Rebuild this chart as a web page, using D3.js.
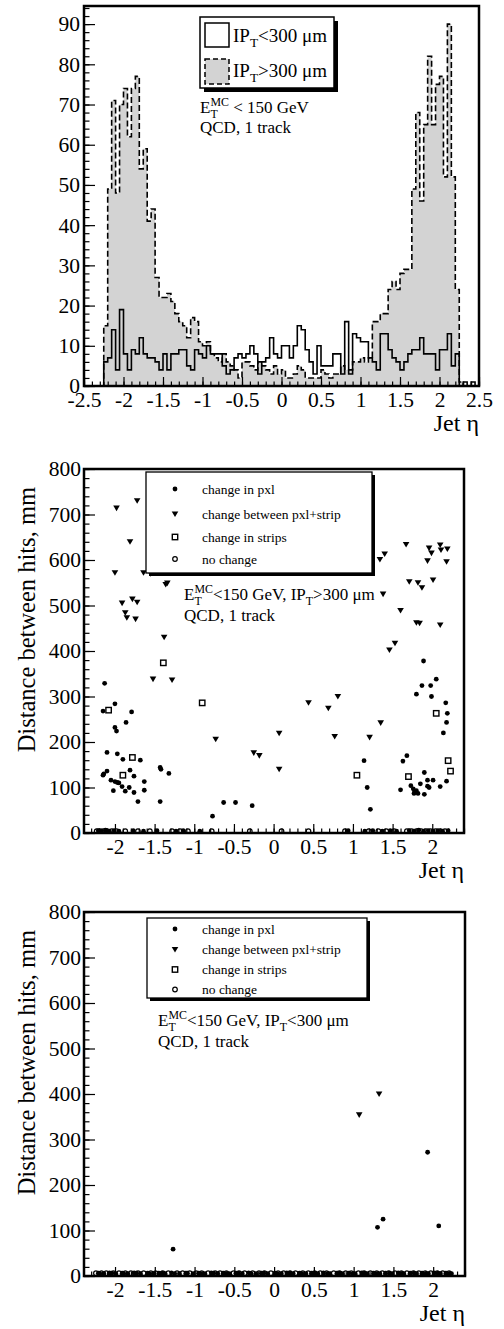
<!DOCTYPE html>
<html>
<head>
<meta charset="utf-8">
<script src="https://cdn.jsdelivr.net/npm/d3@7"></script>
<style>
html,body{margin:0;padding:0;background:#fff;}
svg{display:block;}
text{font-family:"Liberation Serif","Times New Roman",serif;fill:#000;white-space:pre;}
</style>
</head>
<body>
<svg id="chart" width="504" height="1329"></svg>
<script>
// ---------- histogram: jet eta, 100 bins of 0.05 from -2.5 to 2.5 ----------
const histLow = -2.5, histHigh = 2.5, histBins = 100;
// IP_T < 300 um (solid outline)
const countsIpLow = [0,0,0,0,0,
  6,7,14,4,19,8,4,9,8,12,
  8,7,7,6,4,8,4,8,8,9,
  9,5,4,9,8,7,10,8,8,8,
  5,3,4,7,8,7,8,10,8,3,
  6,7,12,8,7,10,10,7,10,15,
  14,9,6,3,10,5,5,5,8,8,
  3,16,3,13,12,11,11,7,6,4,
  13,13,9,7,6,4,6,8,9,9,
  12,8,8,8,4,9,9,13,5,8,
  0,1,0,1,0];
// IP_T > 300 um (grey, dashed outline)
const countsIpHigh = [0,0,0,0,0,
  15,49,71,48,70,74,62,74,77,54,
  59,41,44,27,22,22,23,21,18,16,
  15,12,17,16,11,10,11,8,7,6,
  8,6,5,4,2,6,6,5,4,6,
  5,4,3,5,3,4,2,2,3,5,
  4,2,2,2,2,4,3,2,3,3,
  5,4,4,6,6,7,6,7,16,16,
  18,18,24,26,24,28,29,29,49,68,
  46,65,82,65,75,77,52,90,52,24,
  1,0,0,0,0];
const histYTicks = [0,10,20,30,40,50,60,70,80,90];
const histXTicks = [-2.5,-2,-1.5,-1,-0.5,0,0.5,1,1.5,2,2.5];

// ---------- scatter: [jet eta, distance between hits (mm)] ----------
// IP_T > 300 um
const midPxl = [[-2.13,329],[-2.15,268],[-2.00,284],[-2.00,232],[-1.98,224],[-1.86,243],[-1.79,266],
  [-2.10,177],[-1.97,174],[-1.90,162],[-1.68,160],[-2.15,127],[-2.14,130],[-2.10,136],[-2.05,116],
  [-2.00,113],[-1.97,111],[-1.95,110],[-2.02,93],[-1.91,102],[-1.87,92],[-1.82,100],[-1.81,138],
  [-1.76,125],[-1.76,89],[-1.71,69],[-1.63,113],[-1.63,94],[-1.43,144],[-1.42,140],[-1.32,131],
  [-1.43,69],[-0.77,37],[-0.63,67],[-0.48,67],[-0.27,60],[1.14,159],[1.18,100],[1.22,52],
  [1.89,378],[1.87,324],[1.98,324],[2.05,338],[1.80,305],[1.99,300],[2.17,286],[2.19,263],
  [2.18,243],[2.14,220],[1.63,158],[1.68,170],[1.60,95],[1.73,104],[1.76,97],[1.78,92],[1.77,87],
  [1.82,87],[1.80,93],[1.85,108],[1.90,133],[1.90,85],[1.94,116],[1.94,103],[1.96,100],[2.01,116],
  [2.10,102],[2.18,114],
  [-2.21,5],[-2.17,4],[-2.12,6],[-2.07,4],[-2.01,5],[-1.95,4],[-1.77,5],[-1.64,4],[-1.47,5],
  [-1.23,4],[-1.14,5],[-0.93,4],[0.94,5],[1.15,4],[1.25,5],[1.37,4],[1.47,5],[1.55,4],[1.71,5],
  [1.77,4],[1.83,6],[1.89,4],[1.95,5],[2.01,4],[2.07,5],[2.13,4],[2.20,5]];
const midPxlStrip = [[-1.98,714],[-1.72,730],[-1.81,640],[-2.00,572],[-1.64,572],[-1.55,570],
  [-1.34,549],[-1.36,546],[-1.91,505],[-1.78,514],[-1.72,507],[-1.87,484],[-1.85,473],[-1.74,470],
  [-1.38,430],[-1.52,338],[-1.28,336],[-0.73,206],[-0.25,176],[-0.18,170],[0.07,219],[0.07,140],
  [0.44,286],[0.69,274],[0.81,300],[0.77,212],[1.21,210],[1.35,242],[1.46,402],[1.53,417],
  [1.34,601],[1.40,613],[1.67,634],[1.96,626],[1.99,615],[2.10,633],[2.11,622],[2.19,624],
  [1.94,598],[2.18,596],[1.71,552],[1.82,550],[1.87,539],[2.01,556],[1.38,525],[1.60,489],
  [1.80,462],[1.84,461],[2.10,457]];
const midStrips = [[-2.08,270],[-1.78,166],[-1.90,127],[-0.90,286],[-1.39,374],[1.05,127],
  [1.70,124],[2.05,263],[2.20,159],[2.23,136]];
const midNoChange = [[-2.23,4],[-2.19,4],[-2.15,4],[-2.10,4],[-2.04,4],[-1.98,4],[-1.87,4],[-1.71,4],
  [-1.56,4],[-1.28,4],[-1.18,4],[-1.08,4],[-0.78,4],[-0.30,4],[0.10,4],[0.44,4],[0.90,4],[1.20,4],
  [1.32,4],[1.42,4],[1.52,4],[1.68,4],[1.74,4],[1.80,4],[1.86,4],[1.92,4],[1.98,4],[2.04,4],
  [2.10,4],[2.16,4]];

// IP_T < 300 um
const botPxl = [[-1.27,59],[1.30,107],[1.37,125],[1.93,272],[2.07,110],
  [-2.21,6],[-2.14,5],[-2.07,7],[-1.99,5],[-1.91,6],[-1.84,5],[-1.76,7],[-1.68,5],[-1.59,6],
  [-1.52,5],[-1.45,6],[-1.37,5],[-1.29,7],[-1.19,5],[-1.11,6],[-1.02,5],[-0.95,6],[-0.87,5],
  [-0.79,7],[-0.71,5],[-0.64,6],[-0.56,5],[-0.48,6],[-0.40,5],[-0.32,7],[-0.23,5],[-0.16,6],
  [-0.08,5],[0.01,6],[0.09,5],[0.16,7],[0.24,5],[0.32,6],[0.40,5],[0.47,6],[0.55,5],[0.62,7],
  [0.70,5],[0.79,6],[0.86,5],[0.94,6],[1.02,5],[1.10,7],[1.17,5],[1.25,6],[1.33,5],[1.40,6],
  [1.48,5],[1.56,7],[1.63,5],[1.71,6],[1.79,5],[1.86,6],[1.94,5],[2.01,7],[2.09,5],[2.16,6],[2.23,5],
  [-2.19,5],[-2.04,6],[-1.89,5],[-1.73,6],[-1.57,5],[-1.41,6],[-1.25,5],[-1.09,6],[-0.92,5],
  [-0.76,6],[-0.60,5],[-0.45,6],[-0.29,5],[-0.13,6],[0.04,5],[0.20,6],[0.35,5],[0.51,6],[0.67,5],
  [0.83,6],[0.99,5],[1.14,6],[1.29,5],[1.45,6],[1.60,5],[1.76,6],[1.91,5],[2.06,6],[2.20,5]];
const botPxlStrip = [[1.07,354],[1.32,400]];
const botStrips = [];
const botNoChange = [[-2.24,6],[-2.17,6],[-2.11,6],[-2.02,6],[-1.95,6],[-1.87,6],[-1.80,6],[-1.71,6],
  [-1.64,6],[-1.55,6],[-1.49,6],[-1.40,6],[-1.33,6],[-1.22,6],[-1.15,6],[-1.06,6],[-0.98,6],[-0.91,6],
  [-0.83,6],[-0.74,6],[-0.68,6],[-0.60,6],[-0.51,6],[-0.44,6],[-0.37,6],[-0.27,6],[-0.19,6],[-0.12,6],
  [-0.04,6],[0.05,6],[0.12,6],[0.20,6],[0.27,6],[0.36,6],[0.43,6],[0.51,6],[0.58,6],[0.66,6],
  [0.75,6],[0.82,6],[0.90,6],[0.97,6],[1.06,6],[1.13,6],[1.21,6],[1.29,6],[1.36,6],[1.44,6],
  [1.52,6],[1.60,6],[1.67,6],[1.75,6],[1.82,6],[1.90,6],[1.97,6],[2.05,6],[2.12,6],[2.20,6]];

const scatYTicks = [0,100,200,300,400,500,600,700,800];
const scatXTicks = [-2,-1.5,-1,-0.5,0,0.5,1,1.5,2];
const legendLabels = ["change in pxl","change between pxl+strip","change in strips","no change"];

// ---------- drawing ----------
const svg = d3.select("#chart");
const GREY = "#d3d3d3";
const TICK_FONT = 21.5;

function richText(g, x, y, parts, size) {
  let cx = x;
  parts.forEach(p => {
    if (p.t !== undefined) {
      const t = g.append("text").attr("x", cx).attr("y", y).style("font-size", size + "px").text(p.t);
      cx += t.node().getComputedTextLength();
    } else {
      let w = 0;
      if (p.sub) {
        const t = g.append("text").attr("x", cx).attr("y", y + size * 0.28)
          .style("font-size", (size * 0.7) + "px").text(p.sub);
        w = Math.max(w, t.node().getComputedTextLength());
      }
      if (p.sup) {
        const t = g.append("text").attr("x", cx).attr("y", y - size * 0.42)
          .style("font-size", (size * 0.7) + "px").text(p.sup);
        w = Math.max(w, t.node().getComputedTextLength());
      }
      cx += w;
    }
  });
}

function drawAxes(g, box, x, y, o) {
  const bottom = g.append("g").attr("transform", `translate(0,${box.b})`);
  bottom.append("g").call(d3.axisBottom(x).tickValues(o.xMinor).tickSize(-o.xMinorLen).tickFormat(""));
  bottom.append("g").call(d3.axisBottom(x).tickValues(o.xMajor).tickSize(-o.xMajorLen)
    .tickPadding(6).tickFormat(d => String(d)));
  const left = g.append("g").attr("transform", `translate(${box.l},0)`);
  left.append("g").call(d3.axisLeft(y).tickValues(o.yMinor).tickSize(-o.yMinorLen).tickFormat(""));
  left.append("g").call(d3.axisLeft(y).tickValues(o.yMajor).tickSize(-o.yMajorLen)
    .tickPadding(o.yPad).tickFormat(d => String(d)));
  [bottom, left].forEach(a => {
    a.selectAll(".domain").remove();
    a.selectAll("line").attr("stroke", "#000").attr("stroke-width", 1.2);
    a.selectAll("text").style("font-size", TICK_FONT + "px").attr("fill", "#000");
    a.selectAll("g").attr("font-family", null).attr("font-size", null);
  });
  g.append("rect").attr("x", box.l).attr("y", box.t).attr("width", box.r - box.l)
    .attr("height", box.b - box.t).attr("fill", "none").attr("stroke", "#000").attr("stroke-width", 2.5);
  g.append("text").attr("x", box.r).attr("y", box.b + 45).attr("text-anchor", "end")
    .style("font-size", "24px").text("Jet η");
}

// ---- top panel: histogram ----
(function () {
  const box = {l: 84, r: 479, t: 6, b: 386};
  const x = d3.scaleLinear().domain([histLow, histHigh]).range([box.l, box.r]);
  const y = d3.scaleLinear().domain([0, 94.5]).range([box.b, box.t]);
  const w = (histHigh - histLow) / histBins;
  const g = svg.append("g");
  const step = vals => {
    let p = `M${x(histLow)},${y(0)}`;
    vals.forEach((v, i) => {
      const lo = histLow + i * w, hi = lo + w;
      p += `L${x(lo)},${y(v)}L${x(hi)},${y(v)}`;
    });
    return p + `L${x(histHigh)},${y(0)}`;
  };
  g.append("path").attr("d", step(countsIpHigh) + "Z").attr("fill", GREY).attr("stroke", "none");
  g.append("path").attr("d", step(countsIpHigh)).attr("fill", "none").attr("stroke", "#000")
    .attr("stroke-width", 1.6).attr("stroke-dasharray", "6,3");
  g.append("path").attr("d", step(countsIpLow)).attr("fill", "none").attr("stroke", "#000")
    .attr("stroke-width", 1.6);
  drawAxes(g, box, x, y, {
    xMajor: histXTicks, xMinor: d3.range(-25, 26).map(d => d / 10), xMajorLen: 9, xMinorLen: 4.5,
    yMajor: histYTicks, yMinor: d3.range(0, 95, 2), yMajorLen: 11, yMinorLen: 5.5, yPad: 4
  });
  // legend
  const L = {x: 200, y: 17, w: 134, h: 71};
  g.append("rect").attr("x", L.x + 4).attr("y", L.y + 4).attr("width", L.w).attr("height", L.h).attr("fill", "#000");
  g.append("rect").attr("x", L.x).attr("y", L.y).attr("width", L.w).attr("height", L.h)
    .attr("fill", "#fff").attr("stroke", "#000").attr("stroke-width", 1.5);
  g.append("rect").attr("x", 205).attr("y", 23).attr("width", 24).attr("height", 24)
    .attr("fill", "#fff").attr("stroke", "#000").attr("stroke-width", 1.5);
  g.append("rect").attr("x", 205).attr("y", 59).attr("width", 24).attr("height", 25)
    .attr("fill", GREY).attr("stroke", "#000").attr("stroke-width", 1.5).attr("stroke-dasharray", "5,3");
  richText(g, 233, 42, [{t: "IP"}, {sub: "T"}, {t: "<300 μm"}], 19);
  richText(g, 233, 77, [{t: "IP"}, {sub: "T"}, {t: ">300 μm"}], 19);
  richText(g, 200, 113, [{t: "E"}, {sub: "T", sup: "MC"}, {t: " < 150 GeV"}], 17);
  g.append("text").attr("x", 200).attr("y", 133).style("font-size", "17px").text("QCD, 1 track");
})();

// ---- scatter panels ----
function markers(g, x, y, pts, kind) {
  const sel = g.selectAll(null).data(pts).enter();
  if (kind === "pxl") {
    sel.append("circle").attr("cx", d => x(d[0])).attr("cy", d => y(d[1])).attr("r", 2.4).attr("fill", "#000");
  } else if (kind === "tri") {
    sel.append("path").attr("d", "M-3.3,-2.6L3.3,-2.6L0,3Z").attr("fill", "#000")
      .attr("transform", d => `translate(${x(d[0])},${y(d[1])})`);
  } else if (kind === "sq") {
    sel.append("rect").attr("x", d => x(d[0]) - 2.7).attr("y", d => y(d[1]) - 2.7).attr("width", 5.4)
      .attr("height", 5.4).attr("fill", "#fff").attr("stroke", "#000").attr("stroke-width", 1.4);
  } else {
    sel.append("circle").attr("cx", d => x(d[0])).attr("cy", d => y(d[1])).attr("r", 2.3)
      .attr("fill", "none").attr("stroke", "#000").attr("stroke-width", 1.2);
  }
}

function scatterPanel(box, sets, leg, note) {
  const x = d3.scaleLinear().domain([-2.39, 2.40]).range([box.l, box.r]);
  const y = d3.scaleLinear().domain([0, 800]).range([box.b, box.t]);
  const g = svg.append("g");
  markers(g, x, y, sets.noChange, "circ");
  markers(g, x, y, sets.pxl, "pxl");
  markers(g, x, y, sets.strips, "sq");
  markers(g, x, y, sets.pxlStrip, "tri");
  drawAxes(g, box, x, y, {
    xMajor: scatXTicks, xMinor: d3.range(-23, 25).map(d => d / 10), xMajorLen: 9, xMinorLen: 4.5,
    yMajor: scatYTicks, yMinor: d3.range(0, 801, 20), yMajorLen: 11, yMinorLen: 5.5, yPad: 3
  });
  g.append("text").attr("transform", `translate(35,${box.t + 18}) rotate(-90)`).attr("text-anchor", "end")
    .style("font-size", "24.5px").text("Distance between hits, mm");
  // legend box with shadow
  g.append("rect").attr("x", leg.x + 3).attr("y", leg.y + 3).attr("width", leg.w).attr("height", leg.h).attr("fill", "#000");
  g.append("rect").attr("x", leg.x).attr("y", leg.y).attr("width", leg.w).attr("height", leg.h)
    .attr("fill", "#fff").attr("stroke", "#000").attr("stroke-width", 1.3);
  const kinds = ["pxl", "tri", "sq", "circ"];
  legendLabels.forEach((lab, i) => {
    const cy = leg.rows[i];
    const lg = g.append("g");
    markers(lg, () => 175, () => cy, [[0, 0]], kinds[i]);
    lg.append("text").attr("x", 202).attr("y", cy + 4.5).style("font-size", "13.5px").text(lab);
  });
  richText(g, note.x, note.y, note.parts, 17);
  g.append("text").attr("x", note.x).attr("y", note.y + 21).style("font-size", "17px").text("QCD, 1 track");
}

scatterPanel({l: 84, r: 464, t: 469, b: 833},
  {pxl: midPxl, pxlStrip: midPxlStrip, strips: midStrips, noChange: midNoChange},
  {x: 146, y: 472, w: 226, h: 101, rows: [489, 514, 537, 559]},
  {x: 184, y: 600, parts: [{t: "E"}, {sub: "T", sup: "MC"}, {t: "<150 GeV, IP"}, {sub: "T"}, {t: ">300 μm"}]});

scatterPanel({l: 84, r: 465, t: 912, b: 1276},
  {pxl: botPxl, pxlStrip: botPxlStrip, strips: botStrips, noChange: botNoChange},
  {x: 147, y: 918, w: 220, h: 80, rows: [929, 949.5, 969.5, 989.5]},
  {x: 158, y: 1026, parts: [{t: "E"}, {sub: "T", sup: "MC"}, {t: "<150 GeV, IP"}, {sub: "T"}, {t: "<300 μm"}]});
</script>
</body>
</html>
